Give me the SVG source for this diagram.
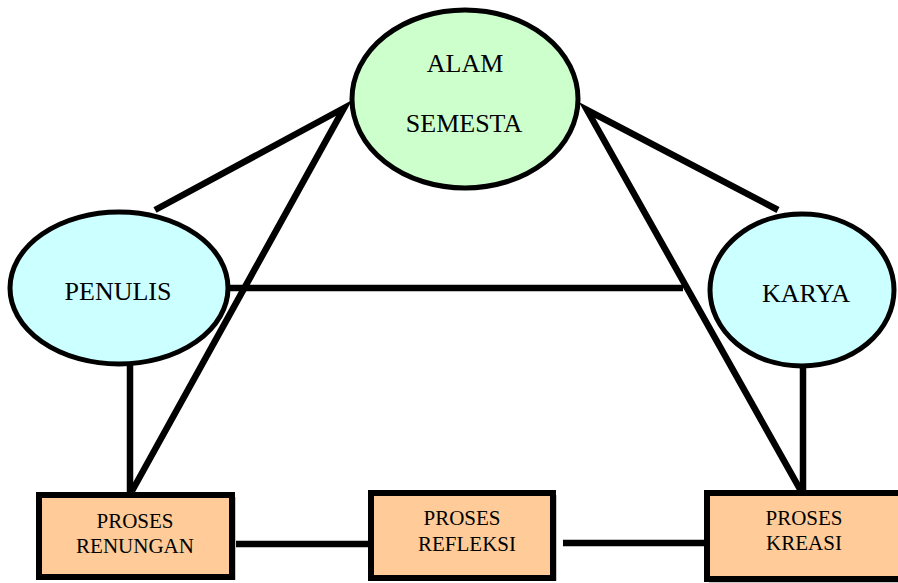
<svg xmlns="http://www.w3.org/2000/svg" width="898" height="583" viewBox="0 0 898 583">
<style>
.c{fill:none;stroke:#000;stroke-width:6.5;stroke-linecap:butt;stroke-linejoin:miter}
.e{stroke:#000;stroke-width:5}
.g{fill:#ccffcc}
.b{fill:#ccffff}
.r{fill:#ffcc99;stroke:#000;stroke-width:6}
.s{fill:#c8c8c8}
.t{font-family:"Liberation Serif","Times New Roman",serif;fill:#000;text-anchor:middle}
.tl{font-size:26px}
.ts{font-size:21px}
</style>
<rect width="898" height="583" fill="#fff"/>
<g id="connectors">
<polyline class="c" points="155,210 344,108 132,491"/>
<polyline class="c" points="778,210 587,110 801,491"/>
<line class="c" x1="130" y1="364" x2="130" y2="493"/>
<line class="c" x1="803" y1="366" x2="803" y2="491"/>
<line class="c" x1="229" y1="288" x2="683" y2="288"/>
<line class="c" x1="228" y1="544" x2="370" y2="544"/>
<line class="c" x1="563" y1="543" x2="706" y2="543"/>
</g>
<g id="alam-semesta">
<ellipse class="e g" cx="465" cy="99" rx="113" ry="89"/>
<text class="t tl" x="465" y="72">ALAM</text>
<text class="t tl" x="464" y="132">SEMESTA</text>
</g>
<g id="penulis">
<ellipse class="e b" cx="119" cy="288" rx="109" ry="76"/>
<text class="t tl" x="118" y="300">PENULIS</text>
</g>
<g id="karya">
<ellipse class="e b" cx="802" cy="290" rx="92" ry="76"/>
<text class="t tl" x="806" y="302">KARYA</text>
</g>
<g id="proses-renungan">
<rect class="s" x="41" y="497" width="195" height="83"/>
<rect class="r" x="39" y="495" width="193" height="82"/>
<text class="t ts" x="135" y="528">PROSES</text>
<text class="t ts" x="135" y="553">RENUNGAN</text>
</g>
<g id="proses-refleksi">
<rect class="s" x="373" y="495" width="184" height="86"/>
<rect class="r" x="371" y="493" width="182" height="85"/>
<text class="t ts" x="462" y="525">PROSES</text>
<text class="t ts" x="467" y="551">REFLEKSI</text>
</g>
<g id="proses-kreasi">
<rect class="s" x="709" y="495" width="196" height="88"/>
<rect class="r" x="707" y="493" width="194" height="86"/>
<text class="t ts" x="804" y="525">PROSES</text>
<text class="t ts" x="804" y="550">KREASI</text>
</g>
</svg>
